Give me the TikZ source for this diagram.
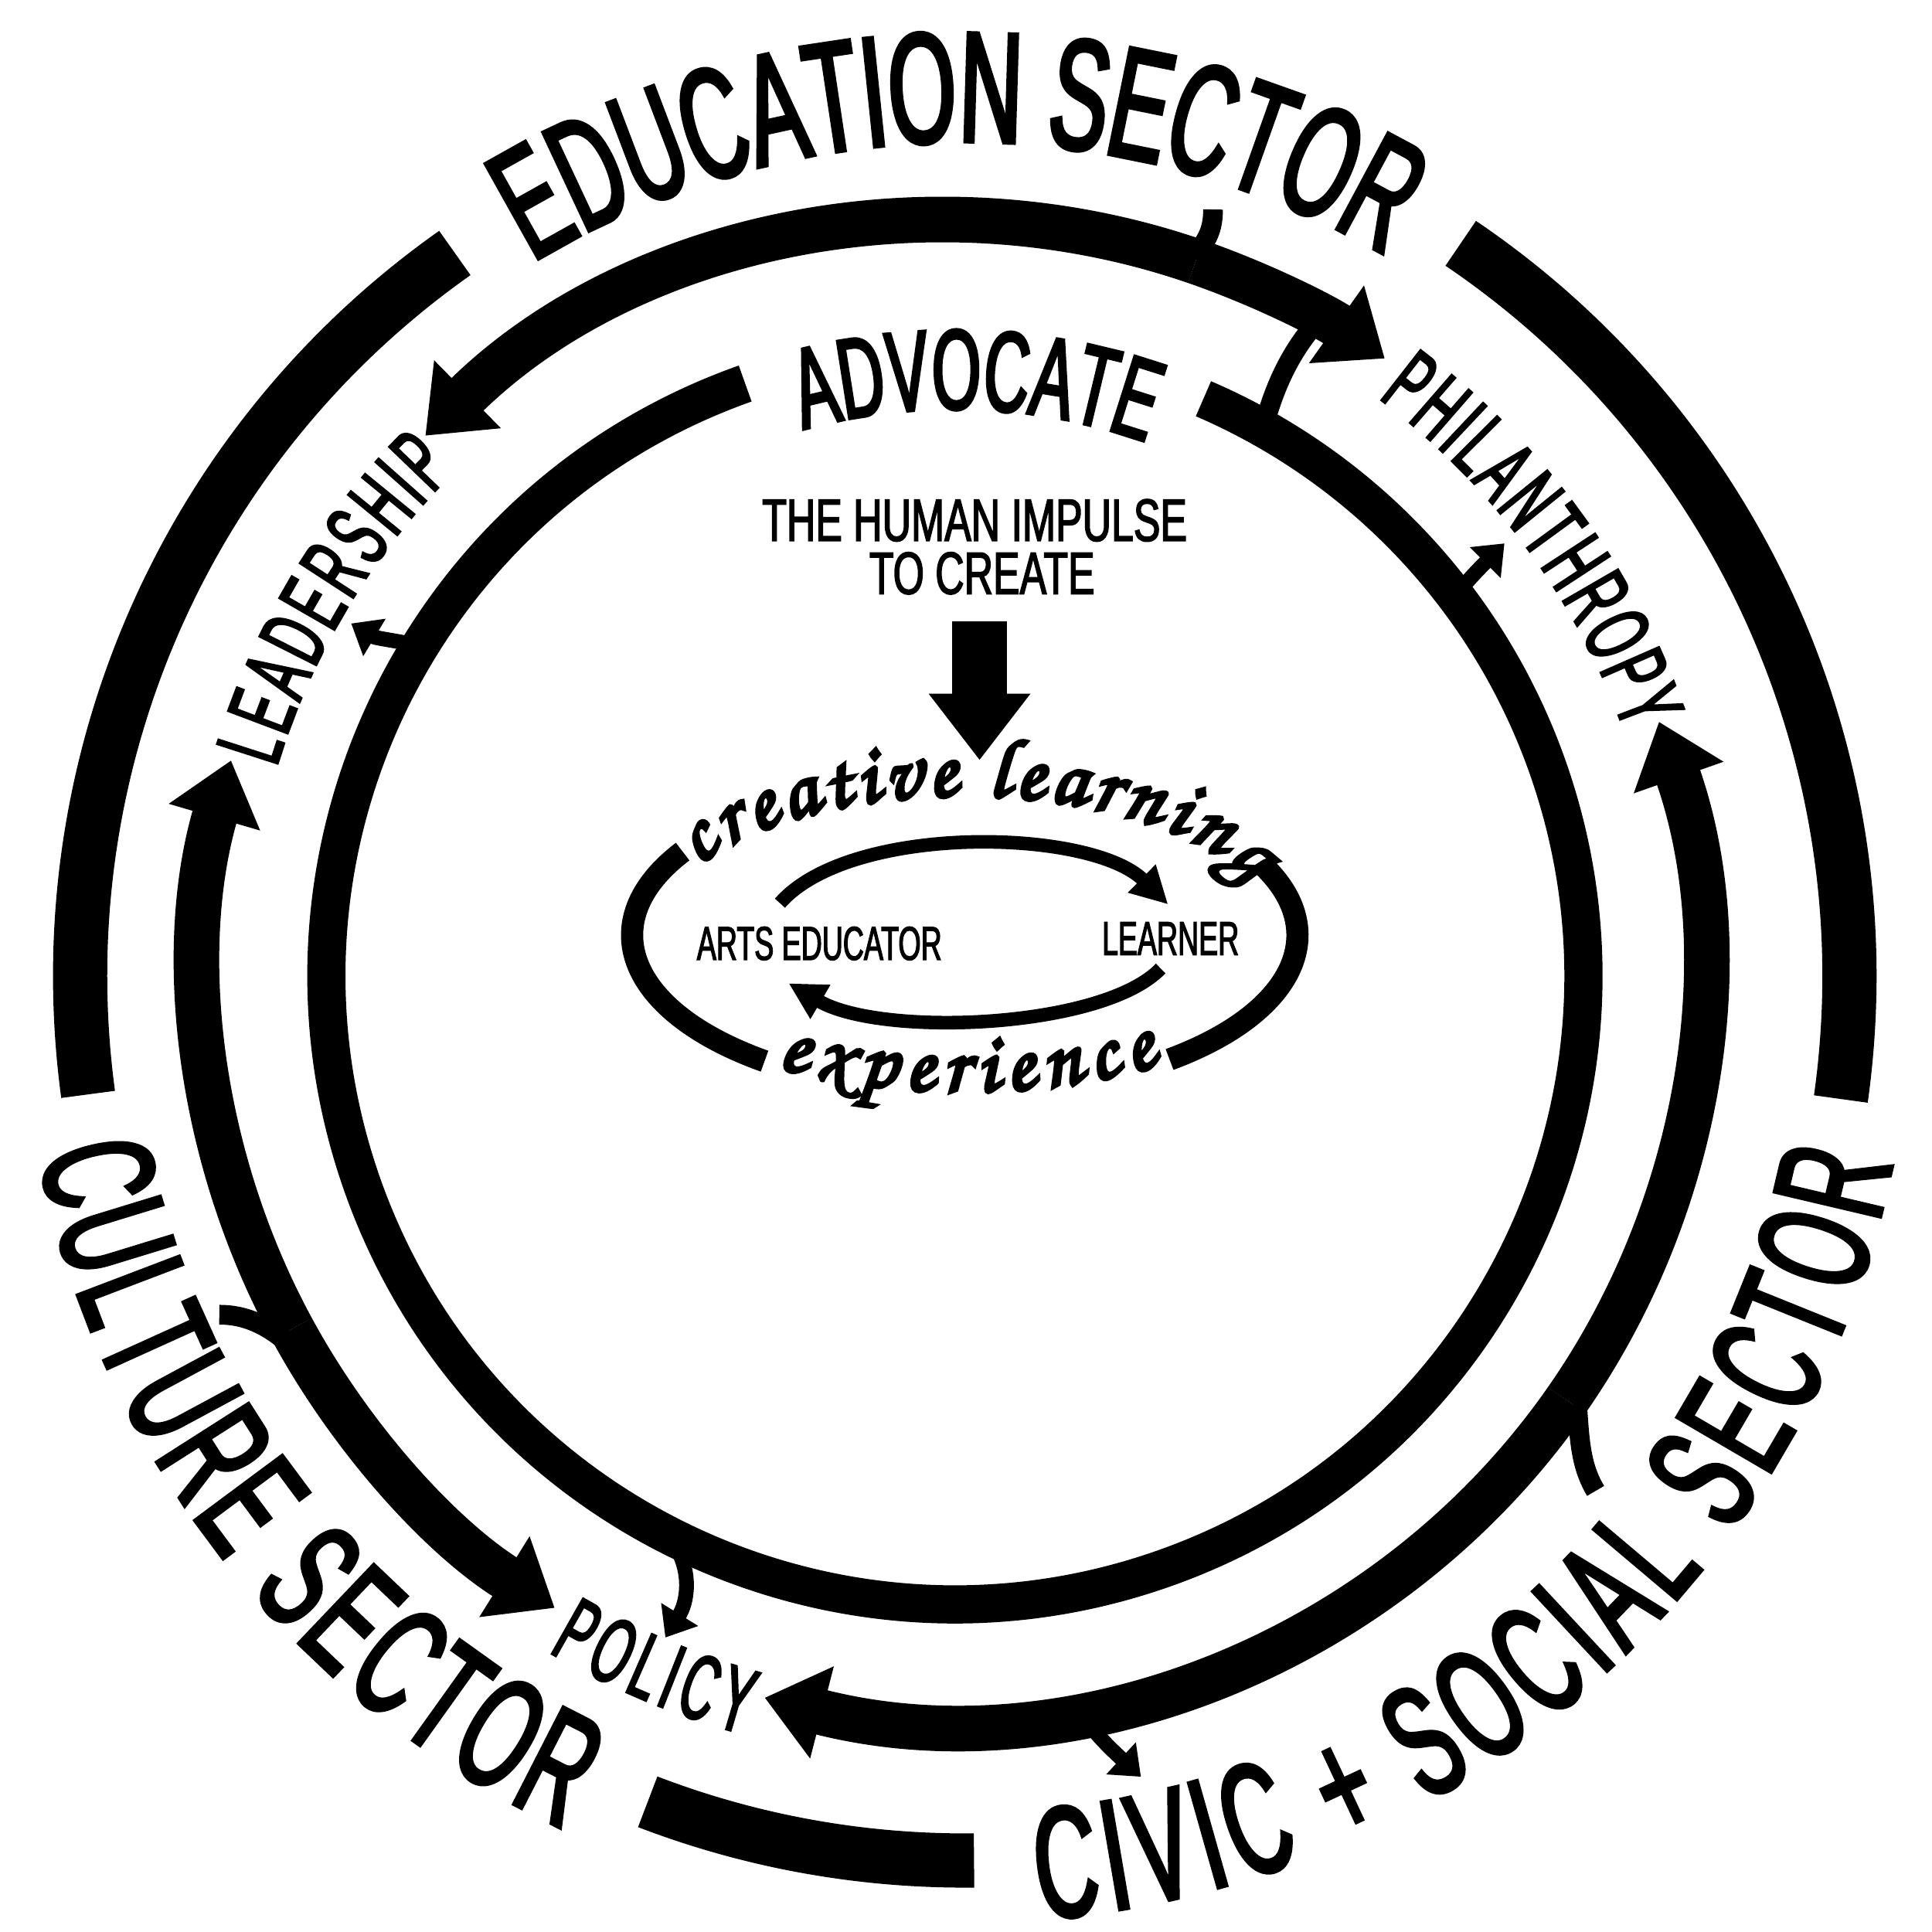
\documentclass[tikz,border=0pt]{standalone}
\usepackage{fontspec}
\usetikzlibrary{arrows.meta,decorations.text,calc}
\newfontfamily\condA{Liberation Sans}[FakeStretch=0.55,FakeBold=2.6]
\newfontfamily\condL{Liberation Sans}[FakeStretch=0.52,FakeBold=2.4]
\newfontfamily\condB{Liberation Sans}[FakeStretch=0.67,FakeBold=2]
\newfontfamily\condC{Liberation Sans}[FakeStretch=0.61,FakeBold=2]
\newfontfamily\handfont{texgyrechorus-mediumitalic.otf}[FakeBold=4.5]
\tikzset{
  ringO/.style={line width=19.96pt},
  ringM/.style={line width=16.79pt},
  ringI/.style={line width=14.06pt},
  tailline/.style={line width=7.26pt},
  stemline/.style={line width=5.44pt},
  ellring/.style={line width=8.17pt},
  flowline/.style={line width=5pt},
  bigtip/.style={-{Triangle[width=33.6pt,length=21.8pt]}},
  smalltip/.style={-{Triangle[width=15.4pt,length=10pt]}},
  flowtip/.style={-{Triangle[width=13.6pt,length=13.6pt]}},
  sectortext/.style={decorate,decoration={text along path,text align=fit to path,
     text={|\condA\fontsize{58pt}{58pt}\selectfont|#1}}},
  roletext/.style={decorate,decoration={text along path,text align=fit to path,
     text={|\condL\fontsize{34pt}{34pt}\selectfont|#1}}},
  advtext/.style={decorate,decoration={text along path,text align=fit to path,
     text={|\condA\fontsize{42pt}{42pt}\selectfont|#1}}},
  handtext/.style={decorate,decoration={text along path,text align=fit to path,
     text={|\handfont\fontsize{31pt}{31pt}\selectfont|#1}}},
  impulselabel/.style={anchor=base,inner sep=0pt,font={\condB\fontsize{22pt}{22pt}\selectfont}},
  rolelabel/.style={anchor=base,inner sep=0pt,font={\condC\fontsize{17.5pt}{17.5pt}\selectfont}},
}
\begin{document}
\begin{tikzpicture}[x=0.0159439cm, y=-0.0159439cm]
\fill[white] (0,0) rectangle (1568,1568);
\useasboundingbox (0,0) rectangle (1568,1568);
\coordinate (O) at (783,792);
\coordinate (M) at (772,788);
\coordinate (I) at (775,792);
\coordinate (E) at (783,759);

% ---------- outer ring ----------
\draw[ringO] ($(O)+(-125.2:718)$) arc[start angle=-125.2, end angle=-187.7, radius=718];
\draw[ringO] ($(O)+(-55.9:718)$) arc[start angle=-55.9, end angle=8, radius=718];
\draw[ringO] ($(O)+(-249:718)$) arc[start angle=-249, end angle=-270.6, radius=718];

% ---------- middle ring (arrows) ----------
\draw[ringM,bigtip] ($(M)+(-71:609)$) arc[start angle=-71, end angle=-134.5, radius=609];
\draw[ringM,bigtip] ($(M)+(-71:609)$) arc[start angle=-71, end angle=-54.7, radius=609];
\draw[ringM,bigtip] ($(M)+(-208.5:609)$) arc[start angle=-208.5, end angle=-163.7, radius=609];
\draw[ringM,bigtip] ($(M)+(-208.5:609)$) arc[start angle=-208.5, end angle=-238.1, radius=609];
\draw[ringM,bigtip] ($(M)+(34.9:609)$) arc[start angle=34.9, end angle=-19.4, radius=609];
\draw[ringM,bigtip] ($(M)+(34.9:609)$) arc[start angle=34.9, end angle=104.4, radius=609];

% tails from the sectors
\coordinate (topA) at (968,208);  \coordinate (topB) at (984.5,170);
\draw[tailline] (topA) .. controls (980,196) and (984.5,186) .. (topB);
\coordinate (leftA) at (236,1092); \coordinate (leftB) at (178,1067);
\draw[tailline] (leftA) .. controls (218,1076) and (200,1067) .. (leftB);
\coordinate (rightA) at (1280,1140); \coordinate (rightB) at (1295,1210);
\draw[tailline] (rightA) .. controls (1282,1170) and (1283,1190) .. (rightB);
% connector middle ring -> inner ring
\coordinate (connA) at (1068,262); \coordinate (connB) at (1026,345);
\draw[tailline] (connA) .. controls (1050,283) and (1036,308) .. (connB);

% ---------- inner ring ----------
\draw[ringI] ($(I)+(-109.5:510)$) arc[start angle=-109.5, end angle=-426.7, radius=510];

% small arrows from inner ring to roles
\coordinate (leadA) at (340,524); \coordinate (leadT) at (285,506);
\draw[stemline,smalltip] (leadA) .. controls (322,520) and (305,518) .. (leadT);
\coordinate (philA) at (1180,485); \coordinate (philT) at (1221,441);
\draw[stemline,smalltip] (philA) .. controls (1192,470) and (1200,462) .. (philT);
\coordinate (polA) at (552,1262); \coordinate (polT) at (540,1329);
\draw[stemline,smalltip] (polA) .. controls (560,1280) and (558,1300) .. (polT);
\coordinate (civA) at (880,1395); \coordinate (civT) at (926,1442);
\draw[stemline,smalltip] (civA) .. controls (892,1410) and (900,1418) .. (civT);

% ---------- outer texts ----------
\path[sectortext={EDUCATION SECTOR}] ($(O)+(-121.2:677)$) arc[start angle=-121.2, end angle=-60, radius=677];
\path[sectortext={CULTURE SECTOR}] ($(O)+(-190.9:765)$) arc[start angle=-190.9, end angle=-244.8, radius=765];
\path[sectortext={CIVIC + SOCIAL SECTOR}] ($(O)+(85.4:768)$) arc[start angle=85.4, end angle=11.4, radius=768];

% ---------- role texts ----------
\path[roletext={LEADERSHIP}] ($(M)+(-163.2:572)$) arc[start angle=-163.2, end angle=-134.8, radius=572];
\path[roletext={PHILANTHROPY}] ($(M)+(-53.3:580)$) arc[start angle=-53.3, end angle=-19.5, radius=580];
\path[roletext={POLICY}] ($(M)+(-239.4:642)$) arc[start angle=-239.4, end angle=-254.8, radius=642];
\path[advtext={ADVOCATE}] ($(I)+(-105.5:460)$) arc[start angle=-105.5, end angle=-70.3, radius=460];

% ---------- centre ----------
\node[impulselabel] (impulseA) at (791,439) {THE HUMAN IMPULSE};
\node[impulselabel] (impulseB) at (797,482) {TO CREATE};
\coordinate (dtop) at (795,504); \coordinate (dtip) at (795,617);
\draw[line width=19.96pt,-{Triangle[width=35.8pt,length=24.5pt]}] (dtop) -- (dtip);

\draw[ellring] ($(E)+(-148:270 and 128)$) arc[start angle=-148, end angle=-233, x radius=270, y radius=128];
\draw[ellring] ($(E)+(-26.5:270 and 128)$) arc[start angle=-26.5, end angle=52, x radius=270, y radius=128];

\path[handtext={creative learning}] ($(E)+(-150:250 and 113)$) arc[start angle=-150, end angle=-22, x radius=250, y radius=113];
\path[handtext={experience}] ($(E)+(-237.3:283 and 127)$) arc[start angle=-237.3, end angle=-303.7, x radius=283, y radius=127];

\node[rolelabel] (educator) at (665,779) {ARTS EDUCATOR};
\node[rolelabel] (learner) at (950,775) {LEARNER};
\coordinate (fwdA) at (633,733); \coordinate (fwdT) at (948,734);
\draw[flowline,flowtip] (fwdA) .. controls (690,668) and (885,672) .. (fwdT);
\coordinate (backA) at (942,786); \coordinate (backT) at (640,798);
\draw[flowline,flowtip] (backA) .. controls (895,835) and (715,842) .. (backT);
\end{tikzpicture}
\end{document}
